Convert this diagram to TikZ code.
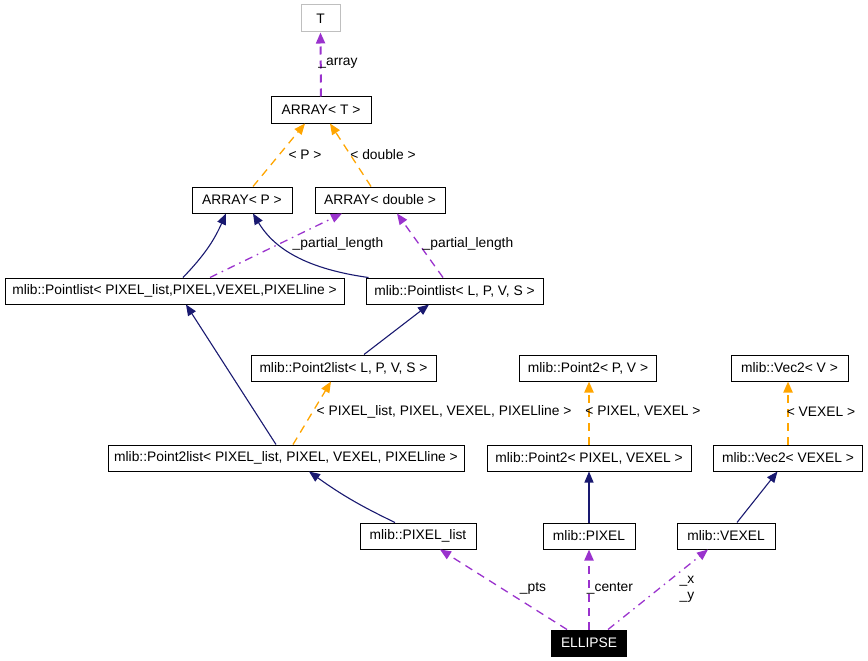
\documentclass[tikz,border=0pt]{standalone}
\usepackage{fontspec}
\setmainfont{Liberation Sans}
\usetikzlibrary{arrows.meta}

\definecolor{inhcol}{HTML}{191970}
\definecolor{usecol}{HTML}{9A32CD}
\definecolor{tplcol}{HTML}{FFA500}
\definecolor{grycol}{HTML}{BFBFBF}

\tikzset{
  cls/.style={draw, minimum height=26pt, inner sep=0pt, line width=1pt,
    font=\fontsize{13.8}{16}\selectfont},
  lbl/.style={inner sep=0pt, font=\fontsize{13.8}{16}\selectfont},
  tip/.style={-{Triangle[length=11pt,width=9pt]}},
  inh/.style={tip, draw=inhcol, line width=1.1pt},
  use/.style={tip, draw=usecol, line width=1.3pt, dash pattern=on 8pt off 6pt},
  usemix/.style={tip, draw=usecol, line width=1.3pt, dash pattern=on 8pt off 5pt on 1.5pt off 5pt},
  tpl/.style={tip, draw=tplcol, line width=1.3pt, dash pattern=on 8pt off 6pt},
  vert/.style={line width=2pt}
}

\begin{document}
\begin{tikzpicture}[x=1pt,y=-1pt]
\useasboundingbox (0,0) rectangle (868,661);

% classes
\node (T) at (320.5,18.5) [cls, draw=grycol, minimum width=39pt, minimum height=27pt] {T};
\node (arrT) at (321,110) [cls, minimum width=100pt] {ARRAY< T >};
\node (arrP) at (242,200) [cls, minimum width=100pt] {ARRAY< P >};
\node (arrD) at (380,200) [cls, minimum width=130pt] {ARRAY< double >};

\node (plPix) at (174.5,291) [cls, minimum width=339pt] {mlib::Pointlist< PIXEL\_list,PIXEL,VEXEL,PIXELline >};
\node (plGen) at (454.5,291) [cls, minimum width=177pt] {mlib::Pointlist< L, P, V, S >};

\node (p2lGen) at (343.5,368) [cls, minimum width=185pt] {mlib::Point2list< L, P, V, S >};
\node (pt2Gen) at (588,368) [cls, minimum width=137pt] {mlib::Point2< P, V >};
\node (vecGen) at (789.5,368) [cls, minimum width=117pt] {mlib::Vec2< V >};

\node (p2lPix) at (286,458) [cls, minimum width=356pt] {mlib::Point2list< PIXEL\_list, PIXEL, VEXEL, PIXELline >};
\node (pt2Pix) at (589,458) [cls, minimum width=204pt] {mlib::Point2< PIXEL, VEXEL >};
\node (vecPix) at (788,458) [cls, minimum width=149pt] {mlib::Vec2< VEXEL >};

\node (pixList) at (418,536) [cls, minimum width=116pt] {mlib::PIXEL\_list};
\node (pixel) at (589,536) [cls, minimum width=92pt] {mlib::PIXEL};
\node (vexel) at (726,536) [cls, minimum width=98pt] {mlib::VEXEL};

\node (ellipse) at (589,643) [cls, fill=black, text=white, minimum width=75pt] {ELLIPSE};

% top part
\draw[use, vert] (arrT.north) -- (T.south);
\draw[tpl] ([xshift=11pt]arrP.north) -- ([xshift=-16pt]arrT.south);
\draw[tpl] ([xshift=-9pt]arrD.north) -- ([xshift=9pt]arrT.south);

\draw[inh] ([xshift=8.5pt]plPix.north) to[bend right=10] ([xshift=-16pt]arrP.south);
\draw[inh] ([xshift=-86pt]plGen.north) .. controls (300,268) and (272,245) .. ([xshift=11pt]arrP.south);
\draw[usemix] ([xshift=35.5pt]plPix.north) -- ([xshift=-38pt]arrD.south);
\draw[use] ([xshift=-11.5pt]plGen.north) -- ([xshift=17pt]arrD.south);

% middle
\draw[inh] ([xshift=-10pt]p2lPix.north) -- ([xshift=11.5pt]plPix.south);
\draw[inh] ([xshift=20.5pt]p2lGen.north) -- ([xshift=-25.5pt]plGen.south);
\draw[tpl] ([xshift=7pt]p2lPix.north) -- ([xshift=-12.5pt]p2lGen.south);
\draw[tpl, vert] (pt2Pix.north) -- (pt2Pix.north |- pt2Gen.south);
\draw[tpl, vert] (vecPix.north) -- (vecPix.north |- vecGen.south);

% bottom
\draw[inh] ([xshift=-23pt]pixList.north) to[bend left=5] ([xshift=23pt]p2lPix.south);
\draw[inh] (pixel.north) -- (pt2Pix.south);
\draw[inh] ([xshift=11pt]vexel.north) -- ([xshift=-10.5pt]vecPix.south);

\draw[use] ([xshift=-22pt]ellipse.north) -- ([xshift=22pt]pixList.south);
\draw[use, vert] (ellipse.north) -- (ellipse.north |- pixel.south);
\draw[usemix] ([xshift=19pt]ellipse.north) -- ([xshift=-18pt]vexel.south);

% labels
\node (lArr) at (338,63) [lbl] {\_array};
\node (lP) at (305,155) [lbl] {< P >};
\node (lDbl) at (383,155) [lbl] {< double >};
\node (lPart1) at (338,244) [lbl] {\_partial\_length};
\node (lPart2) at (468,244) [lbl] {\_partial\_length};
\node (lTpl) at (444,412) [lbl] {< PIXEL\_list, PIXEL, VEXEL, PIXELline >};
\node (lPV) at (643,412) [lbl] {< PIXEL, VEXEL >};
\node (lV) at (821,412) [lbl] {< VEXEL >};
\node (lPts) at (533,588) [lbl] {\_pts};
\node (lCtr) at (610,588) [lbl] {\_center};
\node (lXY) at (687,589) [lbl, align=left] {\_x\\\_y};

\end{tikzpicture}
\end{document}
